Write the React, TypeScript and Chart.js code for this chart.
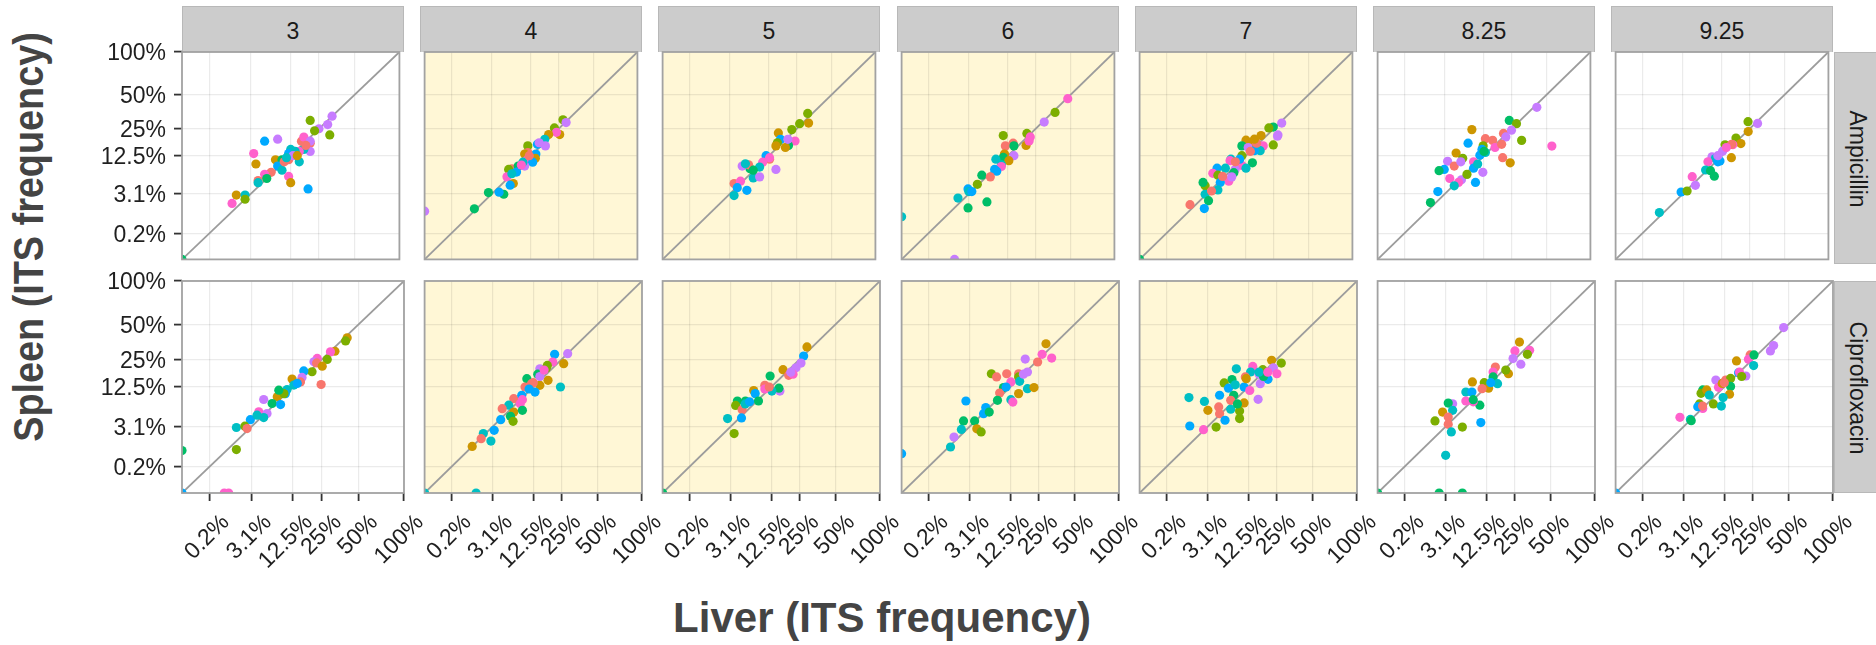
import React, { useEffect, useRef } from 'react';
import { Chart, registerables, LinearScale } from 'chart.js';

// ---------- data ----------
const COLUMNS = ['3', '4', '5', '6', '7', '8.25', '9.25'];
const ROWS = ['Ampicillin', 'Ciprofloxacin'];
const HIGHLIGHT = ['4', '5', '6', '7'];
const TICK_VALUES = [100 / 512, 100 / 32, 12.5, 25, 50, 100];
const TICK_LABELS = ['0.2%', '3.1%', '12.5%', '25%', '50%', '100%'];
const GROUP_COLORS = ['#F8766D', '#CD9600', '#7CAE00', '#00BE67', '#00BFC4', '#00A9FF', '#C77CFF', '#FF61CC'];

// [liver %, spleen %, group]
const amp3 = [[20.5,30.1,2],[32.9,32.9,6],[30.1,27.5,6],[25.0,25.0,6],[22.7,23.8,2],[31.4,21.6,2],[5.49,18.5,5],[8.52,19.5,6],[16.6,18.5,0],[17.6,20.5,7],[20.5,17.6,0],[20.5,18.5,6],[20.5,14.1,6],[17.6,14.9,4],[15.7,14.1,7],[15.7,10.4,4],[12.5,14.9,4],[11.8,13.3,5],[14.1,14.1,4],[3.59,13.3,7],[3.93,9.73,1],[7.95,11.1,1],[9.73,11.1,3],[11.8,11.1,0],[8.52,9.11,5],[9.73,7.95,4],[6.89,7.41,0],[5.49,6.89,7],[4.29,5.49,0],[4.29,5.07,4],[5.93,5.93,3],[11.8,6.4,7],[12.5,5.07,1],[19.5,3.93,5],[1.56,2.98,1],[2.44,2.98,4],[1.22,1.97,7],[2.44,2.44,2],[0,0,3],[10.4,10.4,0],[13.3,12.5,6],[14.9,12.5,1],[18.5,16.6,0],[11.1,11.8,4]];
const amp4 = [[27.5,30.5,2],[29.4,28.7,6],[22.7,25.5,2],[25.6,21.8,1],[23.8,23.0,7],[19.8,21.8,1],[18.0,19.4,4],[11.4,16.4,2],[14.9,17.1,5],[18.3,16.4,6],[15.6,17.8,6],[11.4,13.7,0],[10.4,13.1,1],[14.3,13.1,5],[14.1,11.6,1],[10.9,10.8,7],[13.1,10.3,5],[10.4,9.11,6],[6.89,8.35,0],[6.16,8.17,2],[8.52,9.11,3],[8.06,7.46,5],[5.80,6.30,7],[6.89,7.04,4],[7.25,4.90,1],[6.50,4.59,5],[5.15,3.10,3],[4.29,3.40,5],[2.70,3.34,3],[1.28,1.45,3],[0,1.26,6],[9.86,10.3,4],[11.9,12.5,0],[9.4,9.4,7]];
const amp5 = [[31.7,34.9,2],[32.3,28.4,1],[26.7,28.0,2],[22.4,24.5,2],[16.1,22.7,1],[17.0,19.4,5],[24.1,18.6,7],[20.7,16.6,3],[19.2,15.7,1],[15.7,17.8,2],[20.4,19.4,6],[15.1,16.4,1],[11.5,12.5,5],[12.7,11.3,0],[10.4,10.3,7],[9.48,8.81,4],[6.94,8.35,3],[5.23,9.11,6],[6.59,9.48,0],[5.89,9.80,4],[15.1,8.17,6],[7.73,6.07,4],[9.48,6.30,6],[3.79,4.90,0],[4.90,5.36,7],[4.32,4.14,5],[6.21,3.69,5],[3.79,2.92,4],[7.73,7.95,3],[12.7,11.8,7]];
const amp6 = [[47.6,46.5,7],[37.5,35.6,2],[30.1,29.0,6],[20.4,22.4,2],[10.9,21.3,2],[22.1,20.6,7],[11.6,16.4,0],[14.4,17.6,0],[20.0,16.6,1],[21.5,18.6,7],[14.7,16.4,3],[14.7,12.5,6],[11.3,13.1,1],[10.9,11.9,3],[12.8,10.8,1],[8.69,11.3,4],[10.3,9.48,4],[10.3,8.99,7],[8.35,8.17,5],[8.93,7.68,5],[5.36,6.69,3],[7.25,6.30,0],[4.51,4.74,2],[3.04,3.93,5],[3.16,3.50,4],[3.59,3.50,5],[1.86,2.59,4],[3.04,1.53,3],[6.45,2.13,3],[0,0.87,4],[1.54,0,6]];
const amp7 = [[29.8,28.4,6],[24.8,26.0,3],[22.4,25.5,2],[27.2,21.0,6],[24.8,16.8,2],[18.6,21.3,1],[12.5,19.0,1],[14.9,17.8,1],[19.6,16.4,7],[18.2,14.4,4],[11.1,16.4,3],[13.3,15.7,6],[15.7,14.4,5],[14.9,10.1,3],[11.1,12.5,2],[7.90,11.3,4],[7.68,10.8,7],[11.1,9.30,7],[10.4,11.3,5],[12.5,8.52,4],[9.05,8.17,6],[4.82,8.52,5],[6.55,8.52,4],[8.69,7.30,3],[4.07,7.15,7],[4.98,6.69,2],[7.36,5.36,7],[8.12,6.30,6],[5.44,5.11,5],[2.92,4.47,2],[2.65,5.11,3],[4.98,3.76,4],[2.92,3.10,4],[3.86,3.59,0],[3.40,2.27,3],[1.33,1.84,0],[2.81,1.47,5],[0,0,3],[16.6,17.6,0],[14.1,14.1,0],[9.11,10.4,0],[5.93,6.4,0],[27.5,21.6,6],[15.7,19.5,1]];
const amp825 = [[41.9,39.4,6],[23.7,30.1,3],[27.8,28.0,2],[8.69,24.5,1],[54.9,16.3,7],[31.0,18.9,2],[20.7,22.4,0],[13.0,19.7,0],[15.8,18.9,0],[24.9,24.2,6],[21.9,20.6,6],[7.68,17.6,5],[12.2,16.4,2],[5.02,13.5,1],[16.8,15.7,7],[19.8,17.1,0],[13.0,13.7,4],[11.1,12.7,5],[6.4,11.6,2],[20.3,11.8,0],[24.2,10.1,1],[3.56,10.6,6],[4.67,9.11,0],[3.07,8.17,5],[2.41,7.84,3],[5.98,10.4,6],[9.17,10.4,7],[9.17,8.52,5],[12.1,7.41,6],[3.90,5.93,7],[6.12,5.66,6],[5.49,5.11,7],[4.67,4.47,4],[9.73,5.11,5],[2.27,3.50,5],[1.53,2.06,3],[10.4,9.73,4],[7.41,6.89,2],[11.8,14.9,5],[12.5,14.1,3]];
const amp925 = [[24.1,29.3,2],[29.7,28.2,6],[24.2,23.4,1],[18.1,20.0,2],[20.4,17.4,1],[16.7,16.9,7],[13.6,16.9,2],[12.7,14.2,6],[9.30,12.1,6],[10.3,11.5,4],[16.1,11.8,1],[11.8,10.7,5],[8.17,10.4,7],[7.57,8.01,4],[8.87,7.84,3],[9.99,6.45,3],[4.67,6.35,7],[5.27,4.55,6],[2.92,3.43,5],[3.79,3.59,2],[0.87,1.15,4],[16.2,17.1,0],[11.1,10.4,5],[11.1,12.5,6],[14.1,15.7,7]];
const cip3 = [[41.2,39.2,1],[40.0,36.9,2],[32.7,29.9,1],[29.9,29.5,7],[28.0,25.0,2],[22.6,25.6,7],[21.0,23.7,6],[22.3,23.1,0],[25.2,21.4,1],[20.1,18.7,2],[16.5,19.1,5],[15.8,16.2,6],[15.2,14.4,0],[12.2,15.5,1],[12.8,13.2,4],[24.6,13.4,0],[10.6,11.6,4],[10.1,10.3,5],[7.9,9.36,1],[9.67,10.3,2],[6.69,7.52,3],[4.98,8.58,6],[8.75,7.25,5],[4.14,5.62,7],[5.62,5.27,6],[4.98,4.51,4],[2.92,4.14,5],[3.86,4.94,4],[1.47,2.95,4],[2.27,3.13,2],[2.52,2.81,0],[1.47,0.86,2],[0,0.8,3],[0,0,5],[0.69,0,7],[0.93,0,7],[8.29,11.4,3],[14.0,13.8,5]];
const cip4 = [[28.5,28.4,6],[21.4,28.0,5],[26.2,22.7,1],[20.5,23.6,7],[18.0,21.8,2],[14.9,20.1,6],[18.3,15.0,1],[24.4,12.5,4],[10.4,15.7,3],[14.9,13.1,1],[11.9,13.7,0],[9.86,12.5,0],[13.1,10.8,5],[6.89,8.81,0],[8.93,9.80,5],[8.52,7.46,7],[5.80,7.10,4],[4.55,6.30,0],[6.89,5.57,1],[9.11,5.93,3],[6.16,4.74,3],[6.74,3.86,2],[4.29,4.14,5],[3.28,2.59,5],[1.97,2.20,4],[1.76,1.68,0],[2.84,1.47,4],[1.05,1.06,1],[1.33,0,4],[0,0,4],[17.6,20.5,2],[14.1,17.6,3],[12.5,14.1,0],[9.11,8.52,7],[11.1,11.8,5],[14.9,16.6,6],[16.6,19.5,7]];
const cip5 = [[29.3,32.7,1],[27.3,27.0,5],[25.8,23.0,6],[23.1,20.6,6],[17.0,19.7,1],[19.5,17.1,0],[12.1,16.8,3],[15.7,11.1,6],[15.3,12.1,3],[10.4,13.1,0],[7.36,11.3,1],[12.7,11.1,4],[7.73,10.3,5],[8.58,8.17,3],[4.07,8.17,3],[5.53,8.17,3],[3.79,7.04,2],[4.90,6.07,0],[2.67,4.32,4],[4.78,4.44,5],[3.56,2.20,2],[21.6,17.6,7],[10.4,11.8,7],[20.5,18.5,6],[5.49,7.41,4],[11.8,12.5,0],[6.4,7.95,5],[0,0,3]];
const cip6 = [[29.3,34.9,1],[27.0,28.0,7],[32.9,25.8,7],[24.5,23.6,0],[18.4,25.2,6],[19.4,18.6,6],[15.6,17.8,0],[15.6,16.4,2],[7.04,17.8,2],[8.35,16.4,0],[11.3,17.8,0],[16.0,14.6,4],[12.7,14.4,7],[19.4,11.9,4],[22.6,12.3,1],[10.3,12.3,3],[15.6,10.3,1],[9.17,10.5,0],[8.58,8.35,3],[12.7,8.52,4],[13.4,7.90,7],[2.59,8.17,5],[5.80,6.55,5],[5.36,5.23,5],[6.55,5.57,3],[3.79,3.93,3],[2.31,3.93,3],[2.08,2.70,4],[4.14,2.78,1],[4.90,2.39,2],[1.40,1.84,6],[1.14,1.02,4],[0,0.64,5],[11.1,12.5,5],[17.6,17.6,6]];
const cip7 = [[22.4,24.5,1],[27.7,23.0,2],[23.3,20.6,6],[25.2,17.8,7],[14.1,21.3,7],[18.2,19.7,2],[8.81,20.1,4],[13.3,18.6,4],[11.5,16.4,0],[20.6,15.4,5],[17.1,13.7,6],[7.68,15.3,3],[5.89,14.0,2],[11.1,12.5,5],[6.84,12.1,5],[4.98,9.80,5],[1.17,9.11,4],[2.65,8.06,4],[8.12,9.80,3],[7.36,8.35,0],[13.0,11.3,7],[16.2,8.64,6],[11.1,7.68,1],[3.10,5.93,1],[4.82,6.69,0],[4.98,5.23,0],[7.36,6.16,4],[9.73,5.80,2],[9.73,4.32,2],[6.07,4.04,5],[1.23,3.16,5],[2.54,2.67,7],[4.36,3.01,2],[11.8,15.7,1],[16.6,17.6,6],[18.5,16.6,3],[16.6,18.5,4],[8.52,13.3,4],[9.11,7.41,3],[20.5,18.5,7]];
const cip825 = [[27.8,36.1,1],[25.2,30.1,7],[34.2,30.5,7],[32.7,28.0,2],[24.2,25.5,6],[28.6,22.4,6],[21.8,17.8,1],[15.9,21.0,0],[15.0,18.6,7],[15.0,16.4,3],[16.8,13.7,4],[8.29,14.4,1],[11.8,14.1,2],[13.3,12.1,1],[11.1,11.9,0],[6.69,10.8,4],[8.17,10.8,5],[6.69,8.17,7],[10.4,7.10,3],[4.11,7.46,6],[3.43,7.62,3],[4.11,5.93,4],[2.67,5.57,1],[3.43,4.59,0],[3.43,3.40,0],[1.84,3.93,2],[3.90,2.39,4],[5.93,3.01,2],[10.7,3.66,5],[3.07,0.56,4],[2.27,0,3],[5.93,0,3],[0,0,3],[20.5,19.5,2],[8.52,7.95,7],[14.1,14.1,5],[8.52,8.52,3]];
const cip925 = [[46.2,47.5,6],[38.4,33.6,6],[36.1,30.1,6],[23.7,27.6,0],[22.8,25.1,7],[25.8,27.6,3],[25.6,21.7,4],[17.2,24.2,1],[18.1,18.3,5],[21.5,16.8,6],[9.80,15.1,6],[13.0,15.1,0],[10.6,12.4,7],[14.8,15.8,2],[14.8,12.7,3],[11.8,13.8,1],[14.4,10.1,1],[12.1,9.11,4],[6.45,11.5,3],[6.07,10.4,2],[7.36,11.5,1],[8.01,9.86,4],[6.45,6.35,7],[9.11,7.41,2],[11.5,6.89,4],[5.75,7.41,2],[5.40,6.74,5],[2.59,4.55,7],[4.07,4.18,4],[4.21,3.97,3],[0,0,5],[18.5,18.5,7],[12.5,14.1,0],[6.4,6.89,0],[19.5,16.6,2]];

const PANELS = [
  [amp3, amp4, amp5, amp6, amp7, amp825, amp925],
  [cip3, cip4, cip5, cip6, cip7, cip825, cip925],
];

// ---------- layout / style ----------
const FONT = "'Liberation Sans', Arial, Helvetica, sans-serif";
const COL_LEFT = [182, 420, 658, 897, 1135, 1373, 1611];
const ROW_TOP = [52, 281];
const PW = 222;
const PH = 212;
const GRID = 'rgba(0,0,0,0.08)';

// cube-root axis
class CubeRootScale extends LinearScale {
  static id = 'cuberoot';
  static defaults = {};
  buildTicks() {
    this.start = this.min;
    this.end = this.max;
    return TICK_VALUES.map((v) => ({ value: v }));
  }
  getPixelForValue(value: number) {
    const a = Math.cbrt(this.min);
    const b = Math.cbrt(this.max);
    return this.getPixelForDecimal((Math.cbrt(value) - a) / (b - a));
  }
  getValueForPixel(pixel: number) {
    const a = Math.cbrt(this.min);
    const b = Math.cbrt(this.max);
    const t = a + this.getDecimalForPixel(pixel) * (b - a);
    return t * t * t;
  }
}

Chart.register(...registerables);
Chart.register(CubeRootScale as any);

const panelDecor = {
  id: 'panelDecor',
  beforeDraw(chart: any, _a: any, opts: any) {
    const { ctx, chartArea } = chart;
    ctx.save();
    ctx.fillStyle = opts.bg;
    ctx.fillRect(chartArea.left, chartArea.top, chartArea.width, chartArea.height);
    ctx.restore();
  },
  afterDraw(chart: any) {
    const { ctx, chartArea } = chart;
    ctx.save();
    ctx.strokeStyle = '#a2a2a2';
    ctx.lineWidth = 1.8;
    ctx.strokeRect(chartArea.left, chartArea.top, chartArea.width, chartArea.height);
    ctx.restore();
  },
};

function Panel({ row, col }: { row: number; col: number }) {
  const ref = useRef<HTMLCanvasElement>(null);
  const isLeft = col === 0;
  const isBottom = row === 1;
  const ML = isLeft ? 120 : 0;
  const MT = 14;
  const MB = isBottom ? 100 : 0;
  const MR = isBottom ? 30 : 0;
  const w = ML + PW + MR;
  const h = MT + PH + MB;

  useEffect(() => {
    const pts = PANELS[row][col];
    const bg = HIGHLIGHT.includes(COLUMNS[col]) ? '#FFF7D6' : '#FFFFFF';
    const tickFont = { family: FONT, size: 23 };
    const chart = new Chart(ref.current as HTMLCanvasElement, {
      type: 'scatter',
      data: {
        datasets: [
          {
            data: pts.map((p) => ({ x: p[0], y: p[1] })),
            pointRadius: 4.6,
            pointHoverRadius: 4.6,
            pointBorderWidth: 0,
            pointBackgroundColor: pts.map((p) => GROUP_COLORS[p[2]]),
            clip: 0,
            order: 0,
          } as any,
          {
            type: 'line',
            data: [{ x: 0, y: 0 }, { x: 100, y: 100 }],
            borderColor: '#9c9c9c',
            borderWidth: 1.8,
            pointRadius: 0,
            fill: false,
            clip: 0,
            order: 1,
          } as any,
        ],
      },
      options: {
        animation: false,
        responsive: false,
        devicePixelRatio: 1,
        events: [],
        layout: { padding: { left: 0, top: MT, right: MR, bottom: 0 } },
        plugins: {
          legend: { display: false },
          tooltip: { enabled: false },
          panelDecor: { bg },
        } as any,
        scales: {
          x: {
            type: 'cuberoot' as any,
            position: 'bottom',
            min: 0,
            max: 100,
            border: { display: false },
            grid: {
              color: GRID,
              lineWidth: 1.2,
              drawTicks: isBottom,
              tickLength: 8,
              tickColor: '#333333',
              tickWidth: 1.8,
            },
            ticks: {
              display: isBottom,
              autoSkip: false,
              minRotation: 45,
              maxRotation: 45,
              padding: 8,
              labelOffset: 16,
              color: '#1f1f1f',
              font: tickFont,
              callback: (_v: any, i: number) => TICK_LABELS[i],
            },
            afterFit: (s: any) => {
              s.height = MB;
              s.paddingLeft = 0;
              s.paddingRight = 0;
            },
          } as any,
          y: {
            type: 'cuberoot' as any,
            position: 'left',
            min: 0,
            max: 100,
            border: { display: false },
            grid: {
              color: GRID,
              lineWidth: 1.2,
              drawTicks: isLeft,
              tickLength: 8,
              tickColor: '#333333',
              tickWidth: 1.8,
            },
            ticks: {
              display: isLeft,
              autoSkip: false,
              padding: 8,
              labelOffset: 2,
              color: '#1f1f1f',
              font: tickFont,
              callback: (_v: any, i: number) => TICK_LABELS[i],
            },
            afterFit: (s: any) => {
              s.width = ML;
              s.paddingTop = 0;
              s.paddingBottom = 0;
            },
          } as any,
        },
      },
      plugins: [panelDecor as any],
    });
    return () => chart.destroy();
  }, []);

  return (
    <canvas
      ref={ref}
      width={w}
      height={h}
      style={{ position: 'absolute', left: COL_LEFT[col] - ML, top: ROW_TOP[row] - MT, width: w, height: h }}
    />
  );
}

export default function App() {
  return (
    <div
      style={{
        position: 'absolute',
        left: 0,
        top: 0,
        width: 1876,
        height: 645,
        background: '#ffffff',
        overflow: 'hidden',
        fontFamily: FONT,
      }}
    >
      {COLUMNS.map((c, i) => (
        <div
          key={'s' + c}
          style={{
            position: 'absolute',
            left: COL_LEFT[i],
            top: 6,
            width: PW,
            height: 46,
            boxSizing: 'border-box',
            background: '#cccccc',
            border: '1px solid #b8b8b8',
            borderBottom: 'none',
            textAlign: 'center',
            lineHeight: '48px',
            fontSize: 23,
            color: '#1a1a1a',
          }}
        >
          {c}
        </div>
      ))}
      {ROWS.map((r, j) => (
        <div
          key={'r' + r}
          style={{
            position: 'absolute',
            left: 1834,
            top: ROW_TOP[j],
            width: 50,
            height: PH,
            boxSizing: 'border-box',
            background: '#cccccc',
            border: '1px solid #b8b8b8',
          }}
        >
          <div
            style={{
              position: 'absolute',
              left: 23 - 120,
              top: PH / 2 - 15,
              width: 240,
              height: 30,
              lineHeight: '30px',
              textAlign: 'center',
              fontSize: 23,
              color: '#1a1a1a',
              transform: 'rotate(90deg)',
              whiteSpace: 'nowrap',
            }}
          >
            {r}
          </div>
        </div>
      ))}
      {ROWS.map((_r, j) => COLUMNS.map((_c, i) => <Panel key={j + '-' + i} row={j} col={i} />))}
      <div
        style={{
          position: 'absolute',
          left: 29 - 300,
          top: 237 - 21,
          width: 600,
          height: 42,
          lineHeight: '42px',
          textAlign: 'center',
          fontSize: 42,
          fontWeight: 'bold',
          color: '#444444',
          transform: 'rotate(-90deg) scaleX(0.9)',
          whiteSpace: 'nowrap',
        }}
      >
        Spleen (ITS frequency)
      </div>
      <div
        style={{
          position: 'absolute',
          left: 0,
          top: 597,
          width: 1764,
          height: 42,
          lineHeight: '42px',
          textAlign: 'center',
          fontSize: 42,
          fontWeight: 'bold',
          color: '#444444',
          whiteSpace: 'nowrap',
        }}
      >
        Liver (ITS frequency)
      </div>
    </div>
  );
}
